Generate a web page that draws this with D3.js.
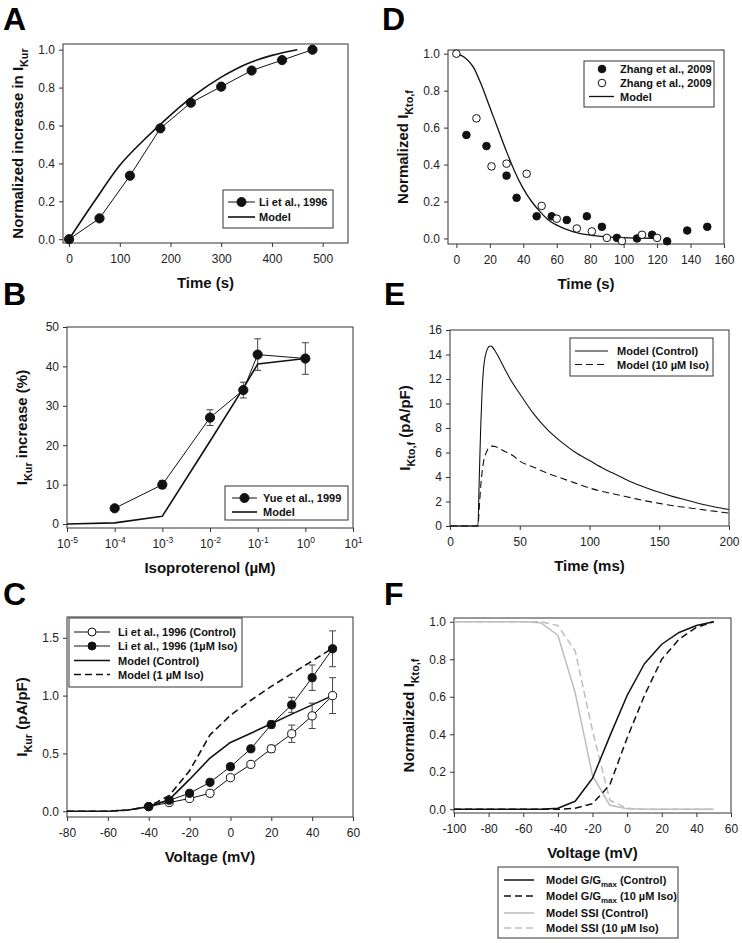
<!DOCTYPE html>
<html><head><meta charset="utf-8">
<script src="https://cdn.jsdelivr.net/npm/d3@7"></script>
<style>
body{margin:0;background:#fff;}
svg{display:block;}
text{font-family:"Liberation Sans",Arial,Helvetica,sans-serif;}
</style></head>
<body>
<script>
// ---------------- DATA ----------------
// Panel A
const aLiTime = [0,60,120,180,240,300,360,420,480];
const aLiValue = [0,0.11,0.335,0.585,0.72,0.805,0.89,0.945,1.0];
const aModelTime = [0,50,100,150,200,250,300,350,400,450];
const aModelValue = [0,0.2,0.39,0.53,0.655,0.765,0.855,0.925,0.97,1.0];
const aXTicks = [0,100,200,300,400,500];
const aYTicks = [0,0.2,0.4,0.6,0.8,1.0];

// Panel B
const bConc = [1e-4,1e-3,1e-2,5e-2,1e-1,1];
const bYueValue = [4,10,27,34,43,42];
const bYueErr = [0,1,2,2,4,4];
const bModelConc = [1e-5,1e-4,1e-3,1e-2,5e-2,1e-1,1];
const bModelValue = [0,0.3,2,21,34.5,40.6,42];
const bXTickExp = [-5,-4,-3,-2,-1,0,1];
const bYTicks = [0,10,20,30,40,50];

// Panel C
const cVoltage = [-40,-30,-20,-10,0,10,20,30,40,50];
const cLiControl = [0.04,0.075,0.11,0.155,0.29,0.405,0.54,0.67,0.825,1.0];
const cLiControlErr = [0,0,0,0,0.01,0.02,0.03,0.075,0.11,0.155];
const cLiIso = [0.04,0.095,0.155,0.25,0.385,0.54,0.75,0.92,1.155,1.405];
const cLiIsoErr = [0,0,0,0,0.01,0.01,0.03,0.065,0.11,0.155];
const cModelVoltage = [-80,-70,-60,-50,-40,-30,-20,-10,0,10,20,30,40,50];
const cModelControl = [0,0,0,0.01,0.04,0.1,0.275,0.46,0.595,0.675,0.757,0.84,0.92,1.0];
const cModelIso = [0,0,0,0.01,0.04,0.135,0.35,0.66,0.83,0.96,1.08,1.19,1.3,1.41];
const cXTicks = [-80,-60,-40,-20,0,20,40,60];
const cYTicks = [0,0.5,1.0,1.5];

// Panel D
const dFilledTime = [6,18,30,36,48,57,66,78,87,96,108,117,126,138,150];
const dFilledValue = [0.56,0.5,0.34,0.22,0.12,0.12,0.1,0.12,0.063,0.003,0.0,0.02,-0.015,0.043,0.063];
const dOpenTime = [0,12,21,30,42,51,60,72,81,90,99,111,120];
const dOpenValue = [1.0,0.65,0.39,0.405,0.35,0.176,0.107,0.054,0.038,0.003,-0.014,0.02,0.003];
const dModelTime = [0,5,10,15,20,25,30,35,40,45,50,55,60,70,80,90,100,110,120];
const dModelValue = [1.0,0.98,0.93,0.83,0.71,0.59,0.47,0.36,0.27,0.2,0.145,0.1,0.072,0.036,0.018,0.009,0.004,0.002,0.001];
const dXTicks = [0,20,40,60,80,100,120,140,160];
const dYTicks = [0,0.2,0.4,0.6,0.8,1.0];

// Panel E
const eTime = [0,20,21,22,23,24,25,26,27,28,29,30,32,35,40,45,50,60,70,80,90,100,110,120,130,140,150,160,170,180,190,200];
const eControl = [0,0,4,8,11,12.8,13.7,14.2,14.5,14.65,14.7,14.65,14.35,13.75,12.65,11.65,10.8,9.15,7.85,6.85,6.0,5.35,4.7,4.15,3.6,3.15,2.75,2.4,2.1,1.8,1.55,1.35];
const eIso = [0,0,1.5,3.2,4.4,5.2,5.7,6.0,6.25,6.4,6.48,6.52,6.5,6.35,6.05,5.75,5.3,4.8,4.3,3.9,3.5,3.1,2.8,2.55,2.3,2.05,1.85,1.65,1.5,1.35,1.2,1.05];
const eXTicks = [0,50,100,150,200];
const eYTicks = [0,2,4,6,8,10,12,14,16];

// Panel F
const fVoltage = [-100,-90,-80,-70,-60,-50,-40,-30,-20,-10,0,10,20,30,40,50];
const fGControl = [0,0,0,0,0,0,0.005,0.043,0.165,0.39,0.607,0.776,0.88,0.943,0.98,1.0];
const fGIso = [0,0,0,0,0,0,0,0.005,0.03,0.13,0.38,0.607,0.8,0.907,0.97,1.0];
const fSSIControl = [1,1,1,1,1,0.995,0.928,0.621,0.18,0.021,0.003,0,0,0,0,0];
const fSSIIso = [1,1,1,1,1,1,0.98,0.844,0.42,0.048,0.005,0,0,0,0,0];
const fXTicks = [-100,-80,-60,-40,-20,0,20,40,60];
const fYTicks = [0,0.2,0.4,0.6,0.8,1.0];

// ---------------- DRAWING ----------------
const svg = d3.select("body").append("svg").attr("width",742).attr("height",943);
const INK = "#111";
const GRAY = "#bdbdbd";
const DASH = "7,4";
const TICKFONT = 12;

function rich(sel, parts, size){
  let shifted = 0;
  parts.forEach(p=>{
    const t = sel.append("tspan").text(p.t);
    if(p.sub){ t.attr("font-size", size*0.72); if(!shifted){t.attr("dy", size*0.3); shifted=1;} }
    else if(p.sup){ t.attr("font-size", size*0.72); t.attr("dy", -size*0.45); shifted=-1; }
    else { if(shifted===1) t.attr("dy", -size*0.3); if(shifted===-1) t.attr("dy", size*0.45); shifted=0; }
  });
}

function numFmt(d){ return String(d).replace("\u2212","-"); }

function panel(cfg){
  const g = svg.append("g");
  const {x,y,L,R,T,B} = cfg;
  g.append("rect").attr("x",L).attr("y",T).attr("width",R-L).attr("height",B-T)
    .attr("fill","none").attr("stroke","#333").attr("stroke-width",1);
  const xa = g.append("g").attr("transform",`translate(0,${B})`)
    .call(d3.axisBottom(x).tickValues(cfg.xTicks).tickSize(4).tickPadding(7).tickSizeOuter(0)
      .tickFormat(cfg.xFormat || numFmt));
  const ya = g.append("g").attr("transform",`translate(${L},0)`)
    .call(d3.axisLeft(y).tickValues(cfg.yTicks).tickSize(4).tickPadding(4).tickSizeOuter(0)
      .tickFormat(cfg.yFormat || numFmt));
  [xa,ya].forEach(a=>{
    a.select(".domain").remove();
    a.selectAll(".tick line").attr("stroke","#333");
    a.selectAll("text").attr("font-size",TICKFONT).attr("fill","#222").attr("font-family",null);
  });
  if(cfg.xSup){
    xa.selectAll(".tick text").each(function(d){
      const t = d3.select(this); t.text(null);
      t.append("tspan").text("10");
      t.append("tspan").attr("font-size",8.5).attr("dy","-0.55em").text(cfg.xSup(d));
    });
  }
  const xt = g.append("text").attr("x",(L+R)/2).attr("y",B+45).attr("text-anchor","middle")
    .attr("font-size",15).attr("font-weight","bold").attr("fill",INK);
  rich(xt, cfg.xTitle, 15);
  const yt = g.append("text").attr("transform",`translate(${L-40},${(T+B)/2}) rotate(-90)`)
    .attr("text-anchor","middle").attr("font-size",15).attr("font-weight","bold").attr("fill",INK);
  rich(yt, cfg.yTitle, 15);
  svg.append("text").attr("x",cfg.lx).attr("y",cfg.ly).attr("font-size",32).attr("font-weight","bold")
    .attr("fill","#000").text(cfg.label);
  return g;
}

function line(g, xs, ys, x, y, opts){
  const pts = xs.map((v,i)=>[x(v),y(ys[i])]);
  g.append("path").attr("d", d3.line().curve(opts.curve||d3.curveLinear)(pts))
    .attr("fill","none").attr("stroke",opts.color||INK).attr("stroke-width",opts.width||1)
    .attr("stroke-dasharray",opts.dash||null).attr("stroke-linejoin","round");
}
function dots(g, xs, ys, x, y, r, open){
  g.selectAll(null).data(xs.map((v,i)=>[v,ys[i]])).enter().append("circle")
    .attr("cx",d=>x(d[0])).attr("cy",d=>y(d[1])).attr("r",r)
    .attr("fill",open?"#fff":INK).attr("stroke",INK).attr("stroke-width",1);
}
function errbars(g, xs, ys, es, x, y){
  xs.forEach((v,i)=>{
    if(!es[i]) return;
    const cx=x(v), y1=y(ys[i]-es[i]), y2=y(ys[i]+es[i]);
    g.append("line").attr("x1",cx).attr("x2",cx).attr("y1",y1).attr("y2",y2).attr("stroke","#444");
    [y1,y2].forEach(yy=>g.append("line").attr("x1",cx-3.5).attr("x2",cx+3.5).attr("y1",yy).attr("y2",yy).attr("stroke","#444"));
  });
}
function legend(g, box, rows){
  g.append("rect").attr("x",box.x0).attr("y",box.y0).attr("width",box.x1-box.x0).attr("height",box.y1-box.y0)
    .attr("fill","#fff").attr("stroke","#333");
  rows.forEach(r=>{
    if(r.line!==false){
      g.append("line").attr("x1",box.s0).attr("x2",box.s1).attr("y1",r.y).attr("y2",r.y)
        .attr("stroke",r.color||INK).attr("stroke-width",r.width||1).attr("stroke-dasharray",r.dash||null);
    }
    if(r.marker){
      g.append("circle").attr("cx",(box.m||(box.s0+box.s1)/2)).attr("cy",r.y).attr("r",r.r||4)
        .attr("fill",r.marker==="open"?"#fff":INK).attr("stroke",INK);
    }
    const t = g.append("text").attr("x",box.tx).attr("y",r.y+4).attr("font-size",11)
      .attr("font-weight","bold").attr("fill",INK);
    rich(t, r.parts, 11);
  });
}

// ---- Panel A ----
{
  const L=63,R=348,T=44,B=243;
  const x=d3.scaleLinear().domain([-12,550]).range([L,R]);
  const y=d3.scaleLinear().domain([-0.02,1.03]).range([B,T]);
  const g=panel({x,y,L,R,T,B,xTicks:aXTicks,yTicks:aYTicks,yFormat:d3.format(".1f"),
    xTitle:[{t:"Time (s)"}], yTitle:[{t:"Normalized increase in I"},{t:"Kur",sub:true}],
    label:"A", lx:3, ly:30});
  line(g,aLiTime,aLiValue,x,y,{width:1});
  line(g,aModelTime,aModelValue,x,y,{width:1.6,curve:d3.curveMonotoneX});
  dots(g,aLiTime,aLiValue,x,y,4.6,false);
  legend(g,{x0:223,x1:333,y0:190,y1:228,s0:228,s1:255,tx:259},
    [{y:202,marker:"filled",r:4.5,parts:[{t:"Li et al., 1996"}]},
     {y:217,width:1.6,parts:[{t:"Model"}]}]);
}

// ---- Panel B ----
{
  const L=67,R=353,T=327,B=528;
  const x=d3.scaleLog().domain([1e-5,10]).range([L,R]);
  const y=d3.scaleLinear().domain([-1,50]).range([B,T]);
  const g=panel({x,y,L,R,T,B,xTicks:bXTickExp.map(e=>Math.pow(10,e)),yTicks:bYTicks,
    xSup:d=>String(Math.round(Math.log10(d))),
    xTitle:[{t:"Isoproterenol (\u00b5M)"}], yTitle:[{t:"I"},{t:"Kur",sub:true},{t:" increase (%)"}],
    label:"B", lx:3, ly:305});
  errbars(g,bConc,bYueValue,bYueErr,x,y);
  line(g,bConc,bYueValue,x,y,{width:1});
  line(g,bModelConc,bModelValue,x,y,{width:1.6});
  dots(g,bConc,bYueValue,x,y,4.6,false);
  legend(g,{x0:225,x1:348,y0:486,y1:520,s0:232,s1:257,tx:263},
    [{y:498,marker:"filled",r:4.5,parts:[{t:"Yue et al., 1999"}]},
     {y:512,width:1.6,parts:[{t:"Model"}]}]);
}

// ---- Panel C ----
{
  const L=67,R=353,T=617,B=817;
  const x=d3.scaleLinear().domain([-80,60]).range([L,R]);
  const y=d3.scaleLinear().domain([-0.05,1.68]).range([B,T]);
  const g=panel({x,y,L,R,T,B,xTicks:cXTicks,yTicks:cYTicks,yFormat:d3.format(".1f"),
    xTitle:[{t:"Voltage (mV)"}], yTitle:[{t:"I"},{t:"Kur",sub:true},{t:" (pA/pF)"}],
    label:"C", lx:3, ly:605});
  line(g,cModelVoltage,cModelControl,x,y,{width:1.6});
  line(g,cModelVoltage,cModelIso,x,y,{width:1.6,dash:DASH});
  errbars(g,cVoltage,cLiControl,cLiControlErr,x,y);
  errbars(g,cVoltage,cLiIso,cLiIsoErr,x,y);
  line(g,cVoltage,cLiControl,x,y,{width:1});
  line(g,cVoltage,cLiIso,x,y,{width:1});
  dots(g,cVoltage,cLiControl,x,y,4.1,true);
  dots(g,cVoltage,cLiIso,x,y,4.1,false);
  legend(g,{x0:69,x1:242,y0:618,y1:687,s0:74,s1:110,m:92,tx:118},
    [{y:632,marker:"open",parts:[{t:"Li et al., 1996 (Control)"}]},
     {y:646,marker:"filled",parts:[{t:"Li et al., 1996 (1\u00b5M Iso)"}]},
     {y:660.5,width:1.6,parts:[{t:"Model (Control)"}]},
     {y:674.5,width:1.6,dash:DASH,parts:[{t:"Model (1 \u00b5M Iso)"}]}]);
}

// ---- Panel D ----
{
  const L=448,R=724,T=50,B=244;
  const x=d3.scaleLinear().domain([-5,160]).range([L,R]);
  const y=d3.scaleLinear().domain([-0.03,1.02]).range([B,T]);
  const g=panel({x,y,L,R,T,B,xTicks:dXTicks,yTicks:dYTicks,yFormat:d3.format(".1f"),
    xTitle:[{t:"Time (s)"}], yTitle:[{t:"Normalized I"},{t:"Kto,f",sub:true}],
    label:"D", lx:382, ly:30});
  line(g,dModelTime,dModelValue,x,y,{width:1.3,curve:d3.curveMonotoneX});
  dots(g,dFilledTime,dFilledValue,x,y,3.8,false);
  dots(g,dOpenTime,dOpenValue,x,y,3.8,true);
  legend(g,{x0:584,x1:714,y0:61,y1:107,s0:589,s1:614,m:602,tx:620},
    [{y:69,line:false,marker:"filled",r:3.8,parts:[{t:"Zhang et al., 2009"}]},
     {y:83,line:false,marker:"open",r:3.8,parts:[{t:"Zhang et al., 2009"}]},
     {y:96.5,width:1.3,parts:[{t:"Model"}]}]);
}

// ---- Panel E ----
{
  const L=450,R=729,T=330,B=526;
  const x=d3.scaleLinear().domain([0,200]).range([L,R]);
  const y=d3.scaleLinear().domain([0,16]).range([B,T]);
  const g=panel({x,y,L,R,T,B,xTicks:eXTicks,yTicks:eYTicks,
    xTitle:[{t:"Time (ms)"}], yTitle:[{t:"I"},{t:"Kto,f",sub:true},{t:" (pA/pF)"}],
    label:"E", lx:384, ly:305});
  line(g,eTime,eControl,x,y,{width:1.1,curve:d3.curveMonotoneX});
  line(g,eTime,eIso,x,y,{width:1.1,dash:DASH,curve:d3.curveMonotoneX});
  legend(g,{x0:570,x1:713,y0:338,y1:376,s0:575,s1:608,tx:617},
    [{y:351,width:1.1,parts:[{t:"Model (Control)"}]},
     {y:364.5,width:1.1,dash:DASH,parts:[{t:"Model (10 \u00b5M Iso)"}]}]);
}

// ---- Panel F ----
{
  const L=454,R=731,T=618,B=813;
  const x=d3.scaleLinear().domain([-100,60]).range([L,R]);
  const y=d3.scaleLinear().domain([-0.02,1.02]).range([B,T]);
  const g=panel({x,y,L,R,T,B,xTicks:fXTicks,yTicks:fYTicks,yFormat:d3.format(".1f"),
    xTitle:[{t:"Voltage (mV)"}], yTitle:[{t:"Normalized I"},{t:"Kto,f",sub:true}],
    label:"F", lx:384, ly:605});
  line(g,fVoltage,fSSIControl,x,y,{width:1.5,color:GRAY});
  line(g,fVoltage,fSSIIso,x,y,{width:1.5,color:GRAY,dash:DASH});
  line(g,fVoltage,fGControl,x,y,{width:1.5});
  line(g,fVoltage,fGIso,x,y,{width:1.5,dash:DASH});
  legend(svg,{x0:498,x1:678,y0:867,y1:938,s0:504,s1:534,tx:546},
    [{y:880,width:1.5,parts:[{t:"Model G/G"},{t:"max",sub:true},{t:" (Control)"}]},
     {y:896,width:1.5,dash:DASH,parts:[{t:"Model G/G"},{t:"max",sub:true},{t:" (10 \u00b5M Iso)"}]},
     {y:913,width:1.5,color:GRAY,parts:[{t:"Model SSI (Control)"}]},
     {y:928,width:1.5,color:GRAY,dash:DASH,parts:[{t:"Model SSI (10 \u00b5M Iso)"}]}]);
}
</script>
</body></html>
